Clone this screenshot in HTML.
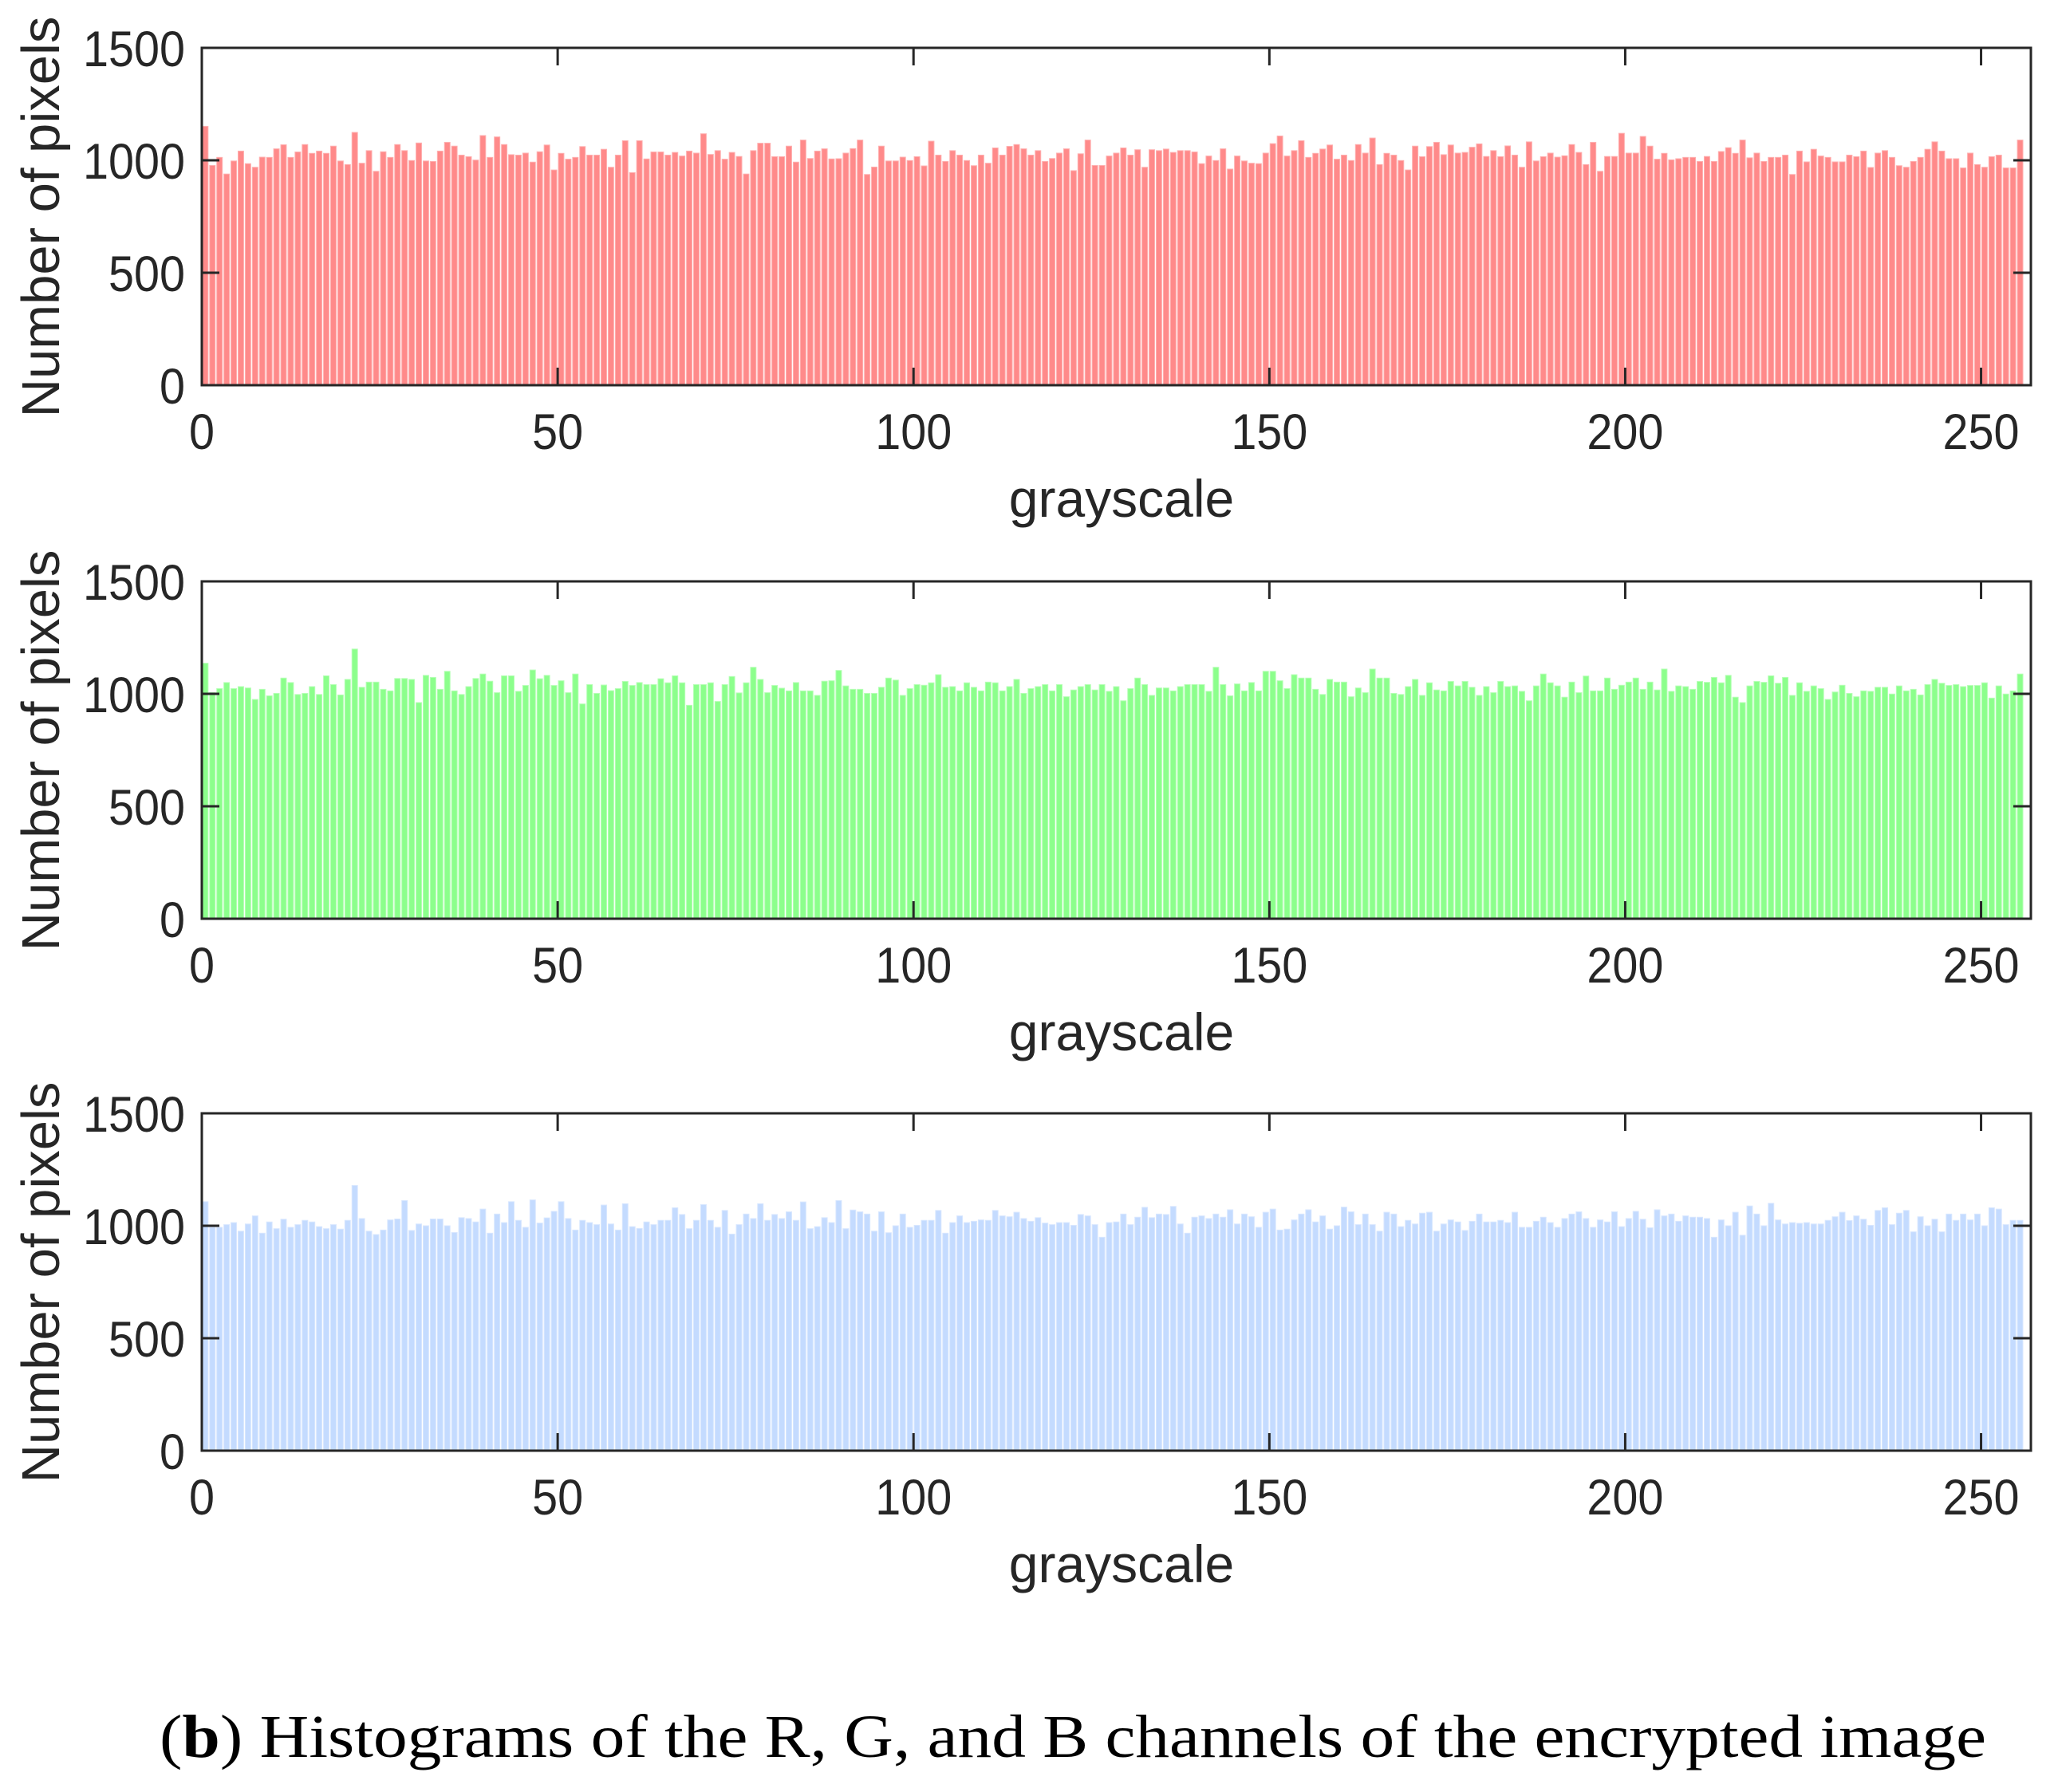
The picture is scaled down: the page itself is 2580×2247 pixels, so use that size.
<!DOCTYPE html>
<html><head><meta charset="utf-8">
<style>
html,body{margin:0;padding:0;background:#fff;}
svg{display:block;}
</style></head>
<body>
<svg id="chart" width="2580" height="2247" viewBox="0 0 2580 2247" xmlns="http://www.w3.org/2000/svg">
<text x="200" y="2203" font-family="Liberation Serif, serif" font-size="76" fill="#000" textLength="2290" lengthAdjust="spacingAndGlyphs">(<tspan font-weight="bold">b</tspan>) Histograms of the R, G, and B channels of the encrypted image</text>
</svg>
<script>
const redValues=[1151,977,1013,939,997,1041,985,969,1014,1013,1051,1069,1013,1037,1070,1031,1041,1031,1063,997,981,1124,987,1043,951,1038,1013,1070,1043,999,1077,997,995,1041,1080,1063,1023,1016,1001,1110,1013,1104,1070,1025,1023,1032,992,1038,1068,957,1031,1005,1013,1061,1023,1023,1049,969,1023,1087,945,1087,1006,1037,1037,1023,1035,1019,1041,1032,1118,1026,1043,1005,1035,1017,939,1043,1076,1076,1016,1016,1063,992,1090,1008,1041,1051,1006,1007,1032,1052,1090,937,970,1063,997,997,1014,999,1016,975,1085,1023,995,1043,1023,999,976,1023,987,1055,1023,1062,1070,1051,1023,1043,995,1008,1032,1051,954,1029,1090,977,977,1019,
1032,1055,1023,1047,969,1047,1043,1050,1035,1043,1043,1037,985,1019,999,1051,961,1019,997,987,985,1032,1074,1108,1019,1043,1087,1013,1031,1050,1068,1005,1023,999,1070,1032,1099,981,1031,1023,999,957,1063,1016,1061,1080,1025,1068,1032,1035,1058,1073,1017,1043,1016,1064,1023,969,1082,997,1016,1032,1014,1020,1070,1035,981,1080,951,1017,1017,1120,1032,1032,1106,1063,1005,1031,1002,1007,1013,1013,995,1017,995,1039,1056,1031,1090,1011,1032,995,1013,1013,1023,937,1041,993,1049,1019,1013,993,993,1023,1016,1041,968,1032,1043,1013,976,969,995,1013,1049,1082,1041,1007,1007,966,1032,981,969,1016,1023,966,966,1090];
const greenValues=[1136,1005,1023,1050,1023,1032,1026,975,1020,991,1002,1070,1050,997,1002,1032,997,1080,1041,995,1064,1199,1029,1052,1052,1020,1013,1068,1068,1064,961,1082,1073,1020,1100,1013,997,1032,1068,1088,1056,1005,1080,1080,1011,1037,1106,1067,1082,1037,1058,1005,1088,955,1041,1002,1039,1014,1023,1055,1037,1050,1041,1041,1067,1049,1080,1049,949,1041,1041,1049,966,1041,1077,1004,1049,1118,1064,1005,1037,1025,1013,1050,1013,1013,993,1056,1058,1104,1035,1020,1020,1002,1002,1029,1070,1061,993,1023,1041,1038,1049,1085,1029,1032,1013,1049,1029,1013,1052,1049,1013,1032,1064,1002,1023,1032,1041,1013,1041,987,1017,1032,1041,1017,1041,1011,
1032,969,1023,1070,1041,993,1026,1026,1013,1032,1041,1041,1041,1011,1118,1041,991,1044,1013,1050,1013,1100,1100,1058,1023,1085,1070,1070,1020,997,1064,1052,1052,987,1026,1005,1110,1070,1070,1002,997,1032,1064,993,1049,1017,1013,1055,1035,1055,1029,993,1032,1005,1055,1032,1035,1011,969,1035,1088,1049,1035,985,1052,1005,1079,1013,1013,1070,1020,1038,1052,1070,1020,1052,1017,1110,1011,1035,1032,1020,1055,1051,1073,1049,1082,985,961,1035,1055,1051,1080,1047,1073,993,1049,1011,1035,1023,975,1008,1038,1002,987,1013,1011,1029,1029,999,1035,1013,1020,995,1041,1064,1047,1037,1041,1032,1037,1037,1049,981,1035,999,1013,1088];
const blueValues=[1107,993,993,1005,1014,976,1008,1044,967,1017,987,1029,993,1005,1024,1017,996,987,1005,985,1024,1179,1032,976,961,981,1026,1030,1112,979,1008,1000,1030,1030,1000,970,1036,1032,1017,1074,967,1052,1014,1107,1024,993,1115,1012,1035,1064,1107,1032,981,1024,1014,1005,1092,1008,981,1098,996,988,1017,1005,1024,1024,1080,1050,987,1024,1094,1024,993,1068,963,1005,1052,1032,1098,1024,1050,1032,1062,1024,1106,987,996,1036,1014,1112,987,1070,1062,1052,976,1062,969,1000,1052,993,1002,1024,1024,1068,967,1014,1044,1014,1020,1026,1024,1068,1044,1040,1060,1032,1020,1036,1012,1005,1014,1014,1002,1050,1044,1005,949,1014,
1017,1052,1005,1038,1082,1036,1052,1050,1086,1008,967,1038,1044,1032,1052,1038,1071,1008,1052,1040,993,1060,1074,981,985,1026,1052,1071,1017,1044,985,1000,1083,1062,1005,1052,1005,976,1060,1052,996,1024,1008,1056,1060,976,1008,1026,1017,979,1020,1052,1017,1017,1024,1014,1060,993,993,1020,1038,1014,993,1032,1052,1062,1032,993,1026,1017,1062,996,1032,1064,1029,991,1071,1044,1052,1020,1044,1038,1038,1032,949,1026,1000,1060,958,1088,1052,1000,1100,1026,1008,1014,1011,1014,1008,1008,1024,1040,1060,1023,1044,1029,1002,1068,1080,1005,1056,1068,973,1040,1000,1029,973,1052,1024,1052,1026,1052,1000,1080,1074,1005,1024,1024];
const yTicks=[0,500,1000,1500];
const xTicks=[0,50,100,150,200,250];
const yTickLabels=["0","500","1000","1500"];
const xTickLabels=["0","50","100","150","200","250"];
const NS="http://www.w3.org/2000/svg";
const svg=document.getElementById('chart');
const X0=253,X1=2546,XMAX=257,YMAX=1500,H=423;
function sx(v){return X0+v*(X1-X0)/XMAX;}
function mk(tag,attrs,parent){const e=document.createElementNS(NS,tag);for(const k in attrs)e.setAttribute(k,attrs[k]);(parent||svg).appendChild(e);return e;}
const panels=[
 {top:60,vals:redValues,fill:"#ff8a8a",edge:"#ffb0b0",name:"red"},
 {top:729,vals:greenValues,fill:"#8cff8c",edge:"#b4ffb4",name:"green"},
 {top:1396,vals:blueValues,fill:"#c4dbff",edge:"#d8e7ff",name:"blue"}
];
panels.forEach(p=>{
  const g=mk('g',{});
  
  
  const bottom=p.top+H;
  function sy(v){return bottom-v*H/YMAX;}
  const bw=(X1-X0)/XMAX;
  p.vals.forEach((v,i)=>{
    const r=mk('rect',{x:sx(i)+bw*0.1,y:sy(v),width:bw*0.78,height:bottom-sy(v),fill:p.fill,stroke:p.edge,'stroke-width':1},g);
    
    
  });
  const box=mk('rect',{x:X0,y:p.top,width:X1-X0,height:H,fill:'none',stroke:'#262626','stroke-width':3},g);
  
  
  yTicks.forEach((t,k)=>{
    const y=sy(t);
    mk('line',{x1:X0,x2:X0+22,y1:y,y2:y,stroke:'#262626','stroke-width':3},g);
    mk('line',{x1:X1,x2:X1-22,y1:y,y2:y,stroke:'#262626','stroke-width':3},g);
    const lab=yTickLabels[k];
    const tx=mk('text',{x:232,y:y+23,'text-anchor':'end','font-family':'Liberation Sans, sans-serif','font-size':63,fill:'#262626',textLength:lab.length*32,lengthAdjust:'spacingAndGlyphs'},g);
    tx.textContent=lab;
    
    
  });
  xTicks.forEach((t,k)=>{
    const x=sx(t);
    mk('line',{x1:x,x2:x,y1:bottom,y2:bottom-22,stroke:'#262626','stroke-width':3},g);
    mk('line',{x1:x,x2:x,y1:p.top,y2:p.top+22,stroke:'#262626','stroke-width':3},g);
    const lab=xTickLabels[k];
    const tx=mk('text',{x:x,y:bottom+80,'text-anchor':'middle','font-family':'Liberation Sans, sans-serif','font-size':63,fill:'#262626',textLength:lab.length*32,lengthAdjust:'spacingAndGlyphs'},g);
    tx.textContent=lab;
    
    
  });
  const xl=mk('text',{x:1406,y:bottom+165,'text-anchor':'middle','font-family':'Liberation Sans, sans-serif','font-size':66,fill:'#262626'},g);
  xl.textContent='grayscale';
  
  
  const cy=p.top+212;
  const yl=mk('text',{x:0,y:0,'text-anchor':'middle','font-family':'Liberation Sans, sans-serif','font-size':67,fill:'#262626',transform:'translate(74,'+cy+') rotate(-90)'},g);
  yl.textContent='Number of pixels';
  
  
});
</script>
</body></html>
